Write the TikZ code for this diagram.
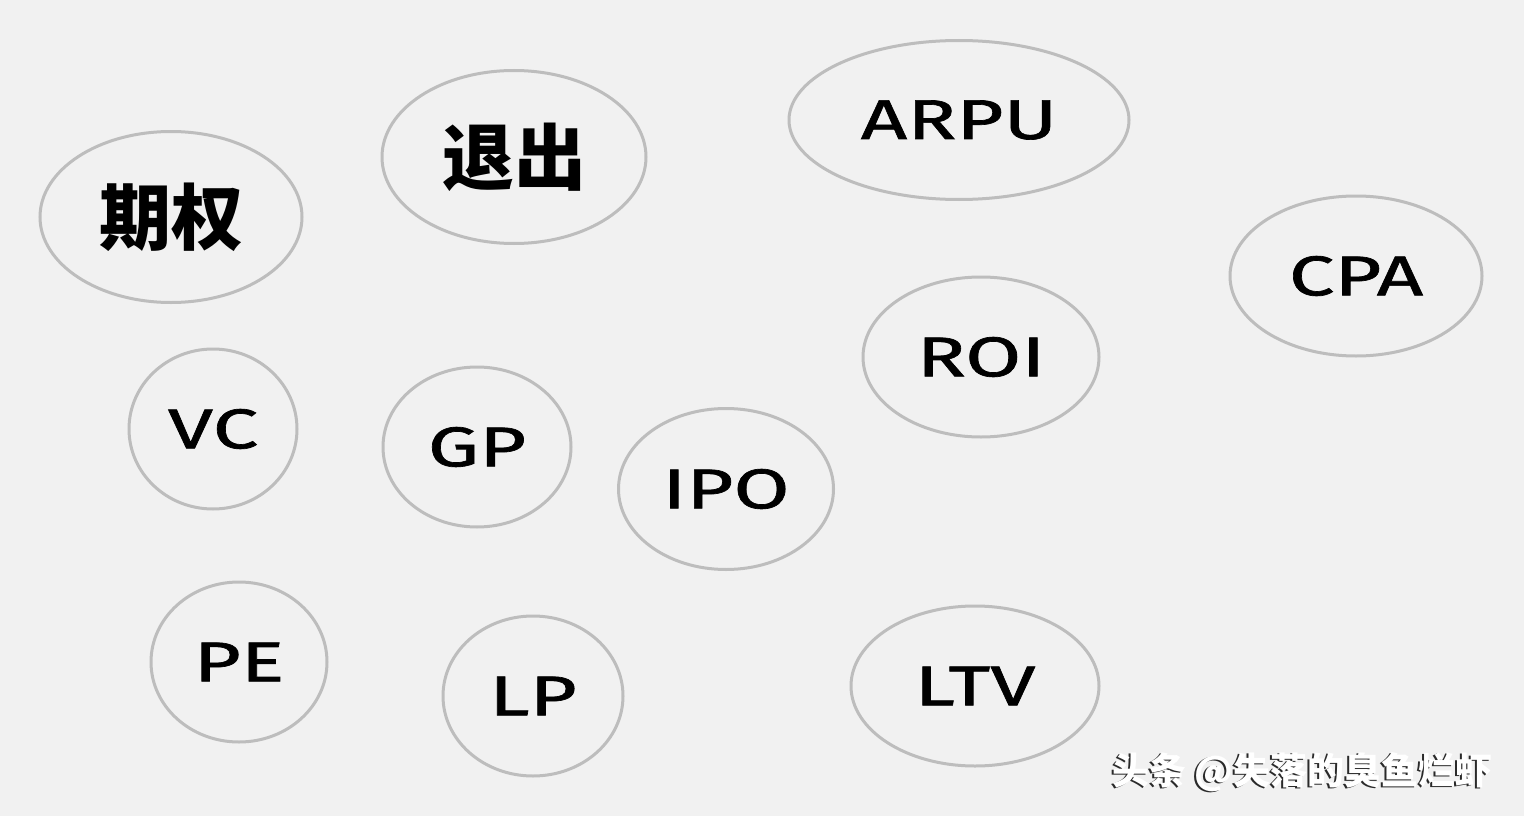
\documentclass[tikz,border=0pt]{standalone}
\usepackage{fontspec}
\newfontfamily\cjk{Noto Sans CJK SC}
\newfontfamily\hand{Fira Sans}[FakeStretch=1.45, FakeBold=1.2]
\definecolor{bg}{HTML}{F1F1F1}
\definecolor{ring}{HTML}{BDBDBD}
\definecolor{shade}{HTML}{2A2A2A}
\tikzset{
  bubble/.style={draw=ring, line width=3pt, ellipse, inner sep=0pt, text=black},
  hw/.style={font=\hand\fontsize{56}{60}\selectfont},
  zh/.style={font=\cjk\bfseries\fontsize{72}{76}\selectfont},
  wmark/.style={font=\cjk\bfseries\fontsize{37}{40}\selectfont}
}
\usetikzlibrary{shapes.geometric}
\begin{document}
\begin{tikzpicture}[x=1pt,y=-1pt]
\fill[bg] (0,0) rectangle (1524,816);
\useasboundingbox (0,0) rectangle (1524,816);
\node[bubble, zh, minimum width=262pt, minimum height=171pt] (qq) at (171,217) {期权};
\node[bubble, zh, minimum width=264pt, minimum height=173pt] (tc) at (514,157) {退出};
\node[bubble, hw, minimum width=340pt, minimum height=159pt] (arpu) at (959,120) {ARPU};
\node[bubble, hw, minimum width=252pt, minimum height=160pt] (cpa) at (1356,276) {CPA};
\node[bubble, hw, minimum width=236pt, minimum height=160pt] (roi) at (981,357) {ROI};
\node[bubble, hw, minimum width=168pt, minimum height=160pt] (vc) at (213,429) {VC};
\node[bubble, hw, minimum width=188pt, minimum height=160pt] (gp) at (477,447) {GP};
\node[bubble, hw, minimum width=215pt, minimum height=161pt] (ipo) at (726,489) {IPO};
\node[bubble, hw, minimum width=176pt, minimum height=160pt] (pe) at (239,662) {PE};
\node[bubble, hw, minimum width=180pt, minimum height=160pt] (lp) at (533,696) {LP};
\node[bubble, hw, minimum width=248pt, minimum height=160pt] (ltv) at (975,686) {LTV};
\node[wmark, text=shade] (wms) at (1300.5,773.5) {头条 @失落的臭鱼烂虾};
\node[wmark, text=white] (wm) at (1302,772) {头条 @失落的臭鱼烂虾};
\end{tikzpicture}
\end{document}
